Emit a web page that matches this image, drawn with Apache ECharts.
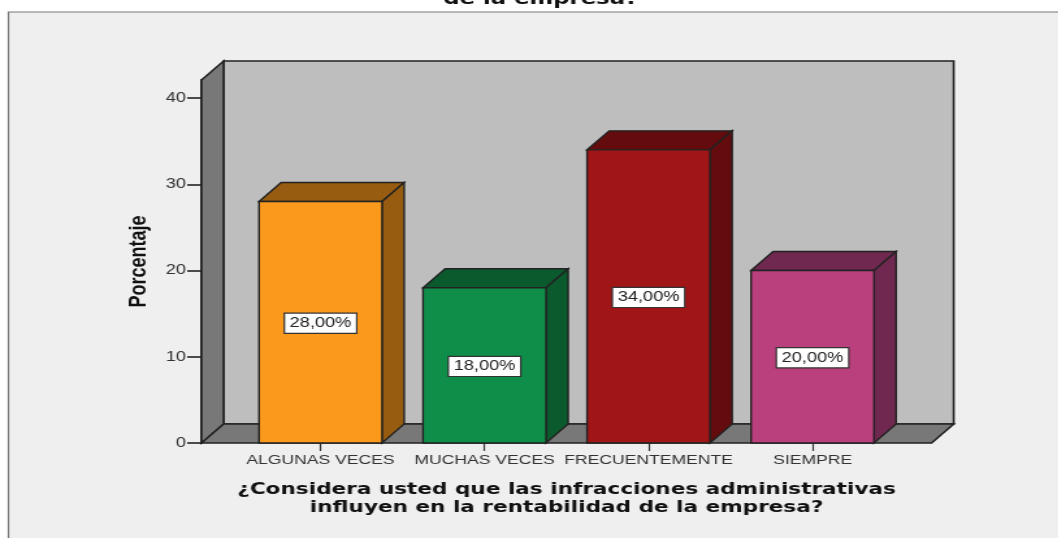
<!DOCTYPE html>
<html>
<head>
<meta charset="utf-8">
<style>
  html, body { margin: 0; padding: 0; background: #fff; overflow: hidden; width: 1058px; height: 538px; }
  /* la imagen original esta estirada en horizontal, todo el grafico se estira igual */
  #chart { width: 813.85px; height: 538px; transform: scaleX(1.3); transform-origin: 0 0; filter: blur(0.35px); }
</style>
<script src="https://cdn.jsdelivr.net/npm/echarts@6/dist/echarts.min.js"></script>
</head>
<body>
<div id="chart"></div>
<script>
const categorias = ['ALGUNAS VECES', 'MUCHAS VECES', 'FRECUENTEMENTE', 'SIEMPRE']
const porcentajes = [28, 18, 34, 20]
const etiquetas = ['28,00%', '18,00%', '34,00%', '20,00%']
const ticksY = [0, 10, 20, 30, 40]

const coloresFrente = ['#fb991d', '#0f8e4a', '#a01516', '#b93f7d']
const coloresLado = ['#985c11', '#0a5a2e', '#640c0d', '#712850']

const fondoX = 17   // profundidad del efecto 3D
const fondoY = 19
const margenEje = 28.5 // el eje y queda a la izquierda de la primera categoria
const linea = '#222'

function renderParedes (params, api) {
  const g = params.coordSys
  const l = g.x - margenEje
  const r = g.x + g.width + margenEje
  const t = g.y
  const b = g.y + g.height
  const poly = (points, fill) => ({
    type: 'polygon',
    shape: { points: points },
    style: { fill: fill, stroke: linea, lineWidth: 1.6 }
  })
  return {
    type: 'group',
    children: [
      poly([[l + fondoX, t - fondoY], [r + fondoX, t - fondoY], [r + fondoX, b - fondoY], [l + fondoX, b - fondoY]], '#bebebe'),
      poly([[l, t], [l + fondoX, t - fondoY], [l + fondoX, b - fondoY], [l, b]], '#787878'),
      poly([[l, b], [l + fondoX, b - fondoY], [r + fondoX, b - fondoY], [r, b]], '#787878')
    ]
  }
}

function renderBarra (params, api) {
  const i = api.value(0)
  const v = api.value(1)
  const w = api.size([1, 0])[0] * 0.75
  const x = api.coord([i, 0])[0] - w / 2
  const yb = api.coord([i, 0])[1]
  const yt = api.coord([i, v])[1]
  const estilo = (fill) => ({ fill: fill, stroke: linea, lineWidth: 1.4 })
  return {
    type: 'group',
    children: [
      {
        type: 'polygon',
        shape: { points: [[x, yt], [x + fondoX, yt - fondoY], [x + w + fondoX, yt - fondoY], [x + w, yt]] },
        style: estilo(coloresLado[i])
      },
      {
        type: 'polygon',
        shape: { points: [[x + w, yt], [x + w + fondoX, yt - fondoY], [x + w + fondoX, yb - fondoY], [x + w, yb]] },
        style: estilo(coloresLado[i])
      },
      {
        type: 'rect',
        shape: { x: x, y: yt, width: w, height: yb - yt },
        style: estilo(coloresFrente[i])
      },
      {
        type: 'text',
        x: x + w / 2,
        y: (yt + yb) / 2 + 1,
        style: {
          text: etiquetas[i],
          align: 'center',
          verticalAlign: 'middle',
          fontFamily: 'Liberation Sans',
          fontSize: 14,
          fill: '#222',
          backgroundColor: '#fff',
          borderColor: '#333',
          borderWidth: 1.2,
          padding: [3, 3.5, 2, 3.5]
        }
      }
    ]
  }
}

const chart = echarts.init(document.getElementById('chart'))
chart.setOption({
  animation: false,
  backgroundColor: '#fff',
  title: {
    text: 'de la empresa?',
    left: 411,
    top: -15,
    textAlign: 'center',
    textStyle: { fontFamily: 'DejaVu Sans', fontSize: 17.5, fontWeight: 'bold', color: '#111' }
  },
  graphic: [{
    type: 'rect',
    z: -10,
    shape: { x: 6.5, y: 12, width: 840, height: 560 },
    style: { fill: '#efefef', stroke: '#777', lineWidth: 1.2 }
  }],
  grid: { left: 183.5, width: 504.6, top: 80, height: 363 },
  xAxis: {
    type: 'category',
    data: categorias,
    name: '¿Considera usted que las infracciones administrativas\ninfluyen en la rentabilidad de la empresa?',
    nameLocation: 'middle',
    nameGap: 38,
    nameTextStyle: { fontFamily: 'DejaVu Sans', fontSize: 16.6, fontWeight: 'bold', color: '#111', lineHeight: 18 },
    axisLine: { show: false },
    axisTick: { show: true, alignWithLabel: true, length: 8, lineStyle: { color: '#333', width: 1.2 } },
    axisLabel: { interval: 0, margin: 10, fontFamily: 'Liberation Sans', fontSize: 13.5, color: '#333' }
  },
  yAxis: {
    type: 'value',
    min: 0,
    max: 42.1,
    interval: 10,
    offset: margenEje,
    name: 'Porcentaje',
    nameLocation: 'middle',
    nameGap: 39,
    nameTextStyle: { fontFamily: 'Liberation Sans', fontSize: 18, fontWeight: 'bold', color: '#111' },
    axisLine: { show: true, lineStyle: { color: '#111', width: 2 } },
    axisTick: { show: true, length: 11, customValues: ticksY, lineStyle: { color: '#222', width: 1.6 } },
    axisLabel: { margin: 12, padding: [4, 0, 0, 0], customValues: ticksY, fontFamily: 'Liberation Sans', fontSize: 14, color: '#333' },
    splitLine: { show: false }
  },
  series: [
    {
      type: 'custom',
      silent: true,
      z: 1,
      renderItem: renderParedes,
      encode: { x: 0, y: 1 },
      data: [[0, 0]]
    },
    {
      type: 'custom',
      z: 2,
      renderItem: renderBarra,
      encode: { x: 0, y: 1 },
      data: porcentajes.map((v, i) => [i, v])
    }
  ]
})
</script>
</body>
</html>
